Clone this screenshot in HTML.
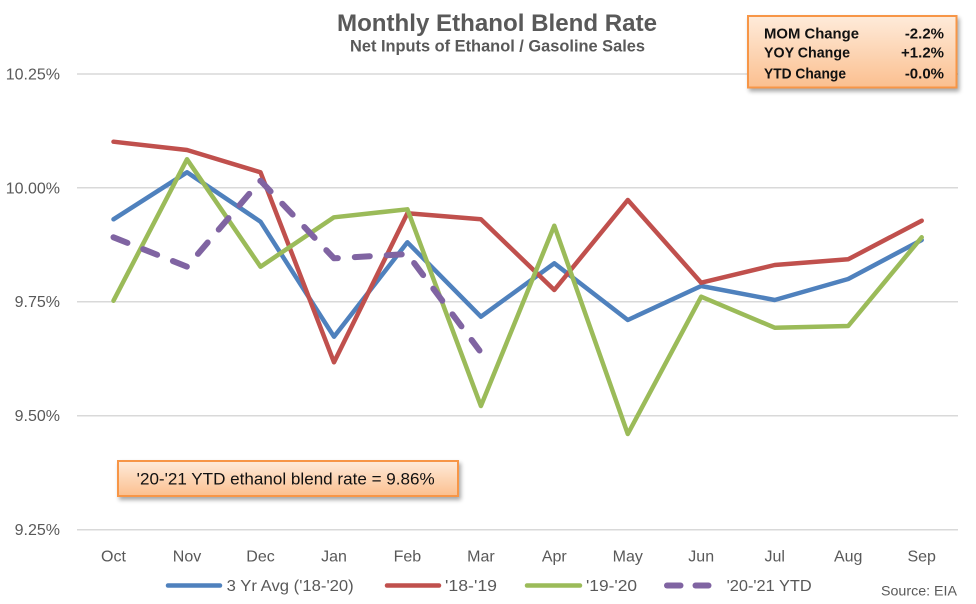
<!DOCTYPE html>
<html>
<head>
<meta charset="utf-8">
<style>
  html, body { margin: 0; padding: 0; background: #ffffff; }
  body { width: 976px; height: 604px; overflow: hidden; }
  svg { display: block; font-family: "Liberation Sans", Arial, sans-serif; }
</style>
</head>
<body>
<svg width="976" height="604" viewBox="0 0 976 604" xmlns="http://www.w3.org/2000/svg">
  <defs>
    <linearGradient id="og" x1="0" y1="0" x2="0" y2="1">
      <stop offset="0" stop-color="#FEEBDA"/>
      <stop offset="1" stop-color="#FBBF8F"/>
    </linearGradient>
    <filter id="sh" x="-10%" y="-20%" width="130%" height="160%">
      <feGaussianBlur in="SourceAlpha" stdDeviation="2"/>
      <feOffset dx="2" dy="3" result="b"/>
      <feComponentTransfer><feFuncA type="linear" slope="0.35"/></feComponentTransfer>
      <feMerge><feMergeNode/><feMergeNode in="SourceGraphic"/></feMerge>
    </filter>
  </defs>

  <rect x="0" y="0" width="976" height="604" fill="#ffffff"/>

  <!-- Title -->
  <text x="497" y="31" text-anchor="middle" font-size="24" font-weight="bold" fill="#595959" textLength="320" lengthAdjust="spacingAndGlyphs">Monthly Ethanol Blend Rate</text>
  <text x="497.5" y="51.5" text-anchor="middle" font-size="17" font-weight="bold" fill="#595959" textLength="295" lengthAdjust="spacingAndGlyphs">Net Inputs of Ethanol / Gasoline Sales</text>

  <!-- Gridlines -->
  <g stroke="#D9D9D9" stroke-width="1.5">
    <line x1="77" y1="74" x2="958" y2="74"/>
    <line x1="77" y1="187.8" x2="958" y2="187.8"/>
    <line x1="77" y1="301.7" x2="958" y2="301.7"/>
    <line x1="77" y1="415.7" x2="958" y2="415.7"/>
    <line x1="77" y1="529.7" x2="958" y2="529.7"/>
  </g>

  <!-- Y axis labels -->
  <g font-size="16" fill="#595959" text-anchor="end">
    <text x="60" y="79.5">10.25%</text>
    <text x="60" y="193.3">10.00%</text>
    <text x="60" y="307.2">9.75%</text>
    <text x="60" y="421.2">9.50%</text>
    <text x="60" y="535.2">9.25%</text>
  </g>

  <!-- X axis labels -->
  <g font-size="16" fill="#595959" text-anchor="middle">
    <text x="113.5" y="561.5">Oct</text>
    <text x="187" y="561.5">Nov</text>
    <text x="260.5" y="561.5">Dec</text>
    <text x="334" y="561.5">Jan</text>
    <text x="407.4" y="561.5">Feb</text>
    <text x="480.9" y="561.5">Mar</text>
    <text x="554.3" y="561.5">Apr</text>
    <text x="627.8" y="561.5">May</text>
    <text x="701.2" y="561.5">Jun</text>
    <text x="774.7" y="561.5">Jul</text>
    <text x="848.2" y="561.5">Aug</text>
    <text x="921.7" y="561.5">Sep</text>
  </g>

  <!-- Series -->
  <g fill="none" stroke-linejoin="round" stroke-linecap="round">
    <polyline stroke="#4F81BD" stroke-width="4.5"
      points="113.5,219.3 187,172.3 260.5,221.7 334,336.7 407.4,242.3 480.9,316.7 554.3,263.3 627.8,320 701.2,286 774.7,300 848.2,279 921.7,240"/>
    <polyline stroke="#C0504D" stroke-width="4.5"
      points="113.5,141.7 187,150 260.5,172.3 334,362.3 407.4,213.3 480.9,219.3 554.3,290 627.8,200 701.2,282.7 774.7,265 848.2,259.3 921.7,220.7"/>
    <polyline stroke="#9BBB59" stroke-width="4.5"
      points="113.5,300.7 187,159.3 260.5,266.7 334,217.3 407.4,209.3 480.9,406 554.3,225.7 627.8,434 701.2,296.7 774.7,327.7 848.2,326 921.7,237.3"/>
    <polyline stroke="#8064A2" stroke-width="6" stroke-dasharray="15 17"
      points="113.5,237.3 187,266.7 260.5,180.7 334,258.3 407.4,254 479.5,350.5"/>
  </g>

  <!-- Stats box -->
  <g filter="url(#sh)">
    <rect x="748" y="16" width="208.5" height="71.5" fill="url(#og)" stroke="#F79646" stroke-width="2"/>
  </g>
  <g font-size="15" font-weight="bold" fill="#111111">
    <text x="764" y="38.3" textLength="95" lengthAdjust="spacingAndGlyphs">MOM Change</text>
    <text x="764" y="57.7" textLength="86" lengthAdjust="spacingAndGlyphs">YOY Change</text>
    <text x="764" y="78.3" textLength="82" lengthAdjust="spacingAndGlyphs">YTD Change</text>
    <text x="944" y="38.3" text-anchor="end">-2.2%</text>
    <text x="944" y="57.7" text-anchor="end">+1.2%</text>
    <text x="944" y="78.3" text-anchor="end">-0.0%</text>
  </g>

  <!-- YTD label box -->
  <g filter="url(#sh)">
    <rect x="118" y="461" width="340" height="35" fill="url(#og)" stroke="#F79646" stroke-width="2"/>
  </g>
  <text x="136.7" y="484.5" font-size="17" fill="#111111" textLength="298" lengthAdjust="spacingAndGlyphs">'20-'21 YTD ethanol blend rate = 9.86%</text>

  <!-- Legend -->
  <g stroke-linecap="round" stroke-width="4.5">
    <line x1="168" y1="585.5" x2="220" y2="585.5" stroke="#4F81BD"/>
    <line x1="387" y1="585.5" x2="439" y2="585.5" stroke="#C0504D"/>
    <line x1="527" y1="585.5" x2="580" y2="585.5" stroke="#9BBB59"/>
  </g>
  <g stroke-linecap="round" stroke-width="6" stroke="#8064A2">
    <line x1="667" y1="585.5" x2="680.5" y2="585.5"/>
    <line x1="695.5" y1="585.5" x2="708.5" y2="585.5"/>
  </g>
  <g font-size="16" fill="#595959">
    <text x="226.7" y="591" textLength="127" lengthAdjust="spacingAndGlyphs">3 Yr Avg ('18-'20)</text>
    <text x="445" y="591" textLength="52" lengthAdjust="spacingAndGlyphs">'18-'19</text>
    <text x="586" y="591" textLength="51" lengthAdjust="spacingAndGlyphs">'19-'20</text>
    <text x="726.7" y="591" textLength="85" lengthAdjust="spacingAndGlyphs">'20-'21 YTD</text>
  </g>
  <text x="881" y="595.5" font-size="14" fill="#595959" textLength="76" lengthAdjust="spacingAndGlyphs">Source: EIA</text>
</svg>
</body>
</html>
